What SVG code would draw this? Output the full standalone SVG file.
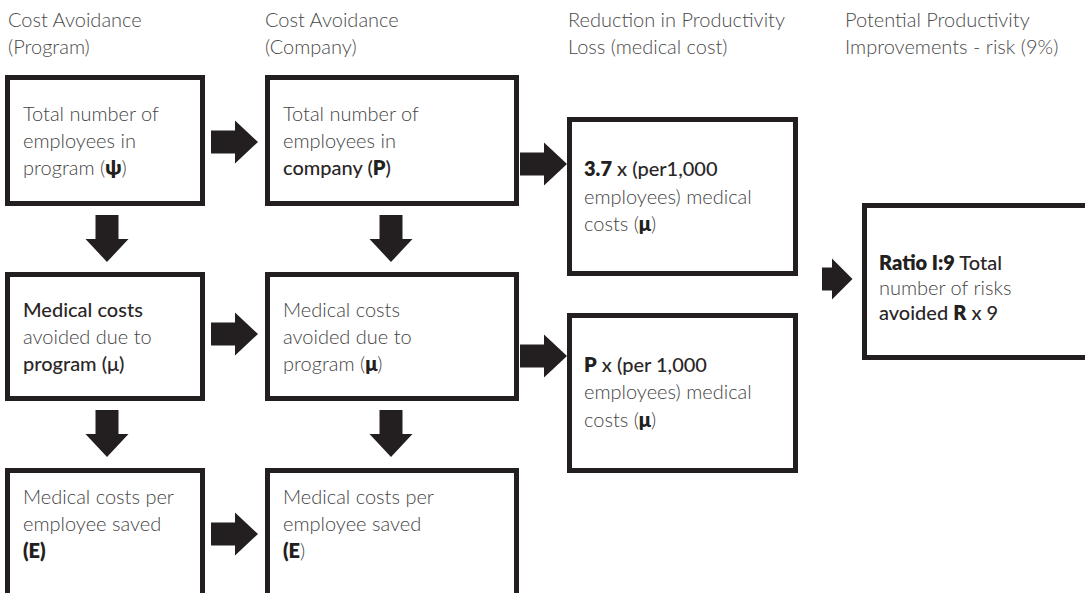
<svg xmlns="http://www.w3.org/2000/svg" xmlns:xlink="http://www.w3.org/1999/xlink" width="1085" height="593" viewBox="0 0 1085 593">
  <style>
    .box { fill: #ffffff; stroke: #231f20; stroke-width: 5; }
    .arrow { fill: #231f20; }
    text { font-family: Lato, "Open Sans", "Liberation Sans", sans-serif; font-size: 20px; fill: #444444; font-weight: 300; }
    .head { fill: #4a4a4a; }
    .m { font-weight: 500; fill: #2a2627; }
    .b { font-weight: 800; fill: #231f20; }
  </style>
  <defs>
    <path id="arrow-right" d="M0,-11.5 H24 V-21.5 L47,0 L24,21.5 V11.5 H0 Z"/>
    <path id="arrow-down" d="M-11.5,0 V24 H-21.5 L0,47 L21.5,24 H11.5 V0 Z"/>
    <path id="arrow-right-short" d="M0,-11.5 H10 V-20.5 L30.5,0 L10,20.5 V11.5 H0 Z"/>
  </defs>

  <!-- column headings -->
  <g id="headings">
    <text class="head" x="8" y="27">Cost Avoidance</text>
    <text class="head" x="8" y="54">(Program)</text>
    <text class="head" x="265" y="27">Cost Avoidance</text>
    <text class="head" x="265" y="54">(Company)</text>
    <text class="head" x="568" y="27">Reduction in Productivity</text>
    <text class="head" x="568" y="54">Loss (medical cost)</text>
    <text class="head" x="845" y="27">Potential Productivity</text>
    <text class="head" x="845" y="54">Improvements - risk (9%)</text>
  </g>

  <!-- connectors -->
  <g id="connectors" class="arrow">
    <use xlink:href="#arrow-right" x="211" y="142"/>
    <use xlink:href="#arrow-right" x="211" y="334"/>
    <use xlink:href="#arrow-right" x="211" y="534"/>
    <use xlink:href="#arrow-right" x="520" y="164"/>
    <use xlink:href="#arrow-right" x="520" y="356"/>
    <use xlink:href="#arrow-right-short" x="822" y="279"/>
    <use xlink:href="#arrow-down" x="107" y="215"/>
    <use xlink:href="#arrow-down" x="107" y="410"/>
    <use xlink:href="#arrow-down" x="391" y="215"/>
    <use xlink:href="#arrow-down" x="391" y="410"/>
  </g>

  <g id="program-employees">
    <rect class="box" x="7.5" y="77.5" width="195" height="126"/>
    <text x="23" y="121">Total number of</text>
    <text x="23" y="148">employees in</text>
    <text x="23" y="175">program (<tspan class="b">ψ</tspan>)</text>
  </g>

  <g id="company-employees">
    <rect class="box" x="267.5" y="77.5" width="249" height="126"/>
    <text x="283" y="121">Total number of</text>
    <text x="283" y="148">employees in</text>
    <text x="283" y="175"><tspan class="m">company (</tspan><tspan class="b">P</tspan><tspan class="m">)</tspan></text>
  </g>

  <g id="program-costs-avoided">
    <rect class="box" x="7.5" y="274.5" width="195" height="124"/>
    <text x="23" y="317" class="m">Medical costs</text>
    <text x="23" y="344">avoided due to</text>
    <text x="23" y="371" class="m">program (μ)</text>
  </g>

  <g id="company-costs-avoided">
    <rect class="box" x="267.5" y="274.5" width="249" height="124"/>
    <text x="283" y="317">Medical costs</text>
    <text x="283" y="344">avoided due to</text>
    <text x="283" y="371">program (<tspan class="b">μ</tspan>)</text>
  </g>

  <g id="program-per-employee">
    <rect class="box" x="7.5" y="470.5" width="195" height="200"/>
    <text x="23" y="504">Medical costs per</text>
    <text x="23" y="531">employee saved</text>
    <text x="23" y="558" class="b">(E)</text>
  </g>

  <g id="company-per-employee">
    <rect class="box" x="267.5" y="470.5" width="249" height="200"/>
    <text x="283" y="504">Medical costs per</text>
    <text x="283" y="531">employee saved</text>
    <text x="283" y="558"><tspan class="b">(E</tspan>)</text>
  </g>

  <g id="loss-rate">
    <rect class="box" x="569.5" y="119.5" width="226" height="154"/>
    <text x="584" y="176"><tspan class="b">3.7</tspan><tspan class="m"> x (per1,000</tspan></text>
    <text x="584" y="204">employees) medical</text>
    <text x="584" y="231">costs (<tspan class="b">μ</tspan>)</text>
  </g>

  <g id="loss-company">
    <rect class="box" x="569.5" y="315.5" width="226" height="155"/>
    <text x="584" y="372"><tspan class="b">P</tspan><tspan class="m"> x (per 1,000</tspan></text>
    <text x="584" y="399">employees) medical</text>
    <text x="584" y="427">costs (<tspan class="b">μ</tspan>)</text>
  </g>

  <g id="risk-ratio">
    <rect class="box" x="864.5" y="205.5" width="300" height="152"/>
    <text x="879" y="270"><tspan class="b">Ratio I:9</tspan><tspan class="m"> Total</tspan></text>
    <text x="879" y="295">number of risks</text>
    <text x="879" y="320" class="m">avoided <tspan class="b">R</tspan> x 9</text>
  </g>
</svg>
